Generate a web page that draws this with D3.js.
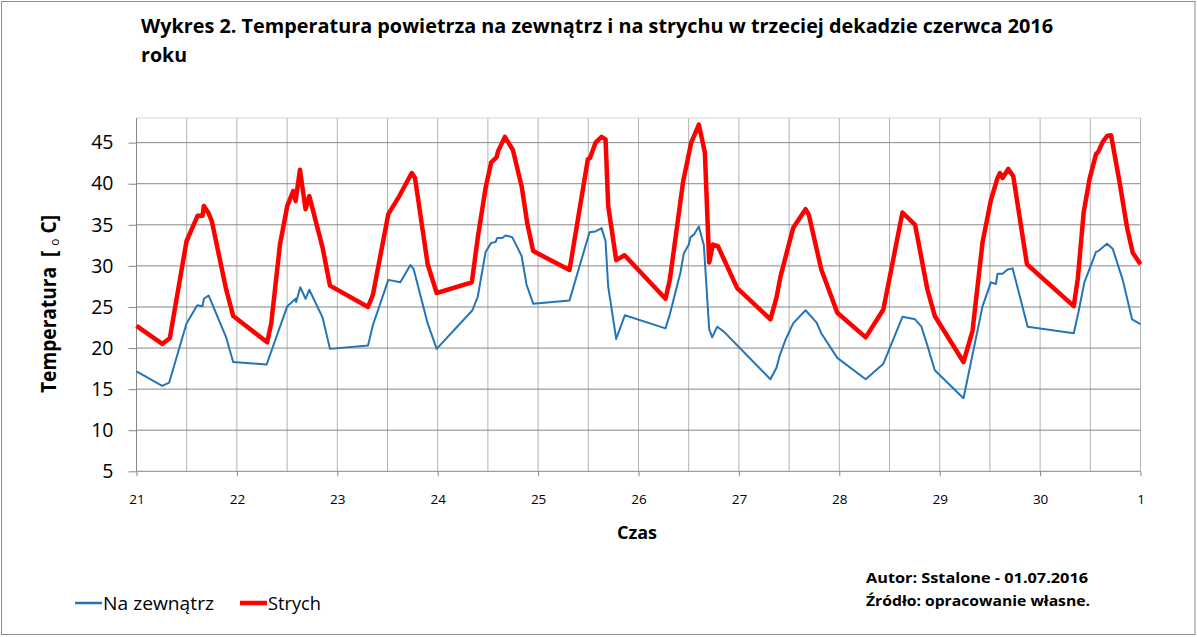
<!DOCTYPE html>
<html>
<head>
<meta charset="utf-8">
<script src="https://cdn.jsdelivr.net/npm/d3@7"></script>
<style>
  body { margin: 0; background: #fff; }
  svg { font-family: "Open Sans", "Noto Sans", sans-serif; }
</style>
</head>
<body>
<div id="chart-area"></div>
<script>
// czas w dniach czerwca (31 = 1 lipca, 00:00)
const outTime = [21.000, 21.256, 21.326, 21.498, 21.605, 21.658, 21.671, 21.718, 21.890, 21.963,
  22.296, 22.502, 22.585, 22.590, 22.631, 22.684, 22.721, 22.854, 22.927,
  23.306, 23.355, 23.508, 23.628, 23.728, 23.761, 23.900, 23.990,
  24.346, 24.400, 24.477, 24.533, 24.576, 24.593, 24.643, 24.676, 24.742, 24.836, 24.885, 24.951,
  25.313, 25.512, 25.572, 25.632, 25.672, 25.698, 25.778, 25.864,
  26.269, 26.312, 26.418, 26.451, 26.501, 26.518, 26.551, 26.601, 26.651, 26.704, 26.734, 26.784, 26.850,
  27.314, 27.374, 27.407, 27.464, 27.540, 27.664, 27.774, 27.820, 27.980,
  28.263, 28.439, 28.629, 28.755, 28.818, 28.878, 28.951,
  29.237, 29.427, 29.510, 29.560, 29.576, 29.626, 29.676, 29.726, 29.876,
  30.335, 30.381, 30.441, 30.557, 30.580, 30.667, 30.723, 30.823, 30.916, 31.000]
const outTemp = [17.15, 15.4, 15.8, 23.0, 25.2, 25.1, 26.0, 26.4, 21.4, 18.3,
  18.0, 25.1, 26.0, 25.6, 27.4, 26.0, 27.1, 23.7, 19.9,
  20.3, 22.8, 28.3, 28.0, 30.1, 29.6, 23.0, 19.9,
  24.6, 26.3, 31.7, 32.8, 32.9, 33.4, 33.4, 33.7, 33.5, 31.2, 27.7, 25.4,
  25.8, 34.1, 34.2, 34.6, 33.0, 27.5, 21.1, 24.0,
  22.4, 24.1, 29.2, 31.5, 32.6, 33.5, 33.8, 34.8, 32.5, 22.3, 21.3, 22.6, 22.0,
  16.2, 17.6, 19.1, 21.0, 23.0, 24.6, 23.1, 21.8, 18.8,
  16.2, 18.1, 23.8, 23.5, 22.6, 20.3, 17.3,
  13.9, 25.1, 28.0, 27.8, 29.05, 29.05, 29.55, 29.7, 22.6,
  21.8, 24.3, 28.0, 31.7, 31.8, 32.7, 32.1, 28.3, 23.5, 22.9]

const atticTime = [21.000, 21.256, 21.332, 21.498, 21.608, 21.658, 21.671, 21.718, 21.751, 21.890, 21.963,
  22.302, 22.342, 22.429, 22.502, 22.561, 22.585, 22.628, 22.684, 22.721, 22.854, 22.927,
  23.306, 23.355, 23.508, 23.618, 23.741, 23.774, 23.900, 23.990,
  24.340, 24.400, 24.477, 24.533, 24.586, 24.603, 24.669, 24.749, 24.836, 24.892, 24.951,
  25.313, 25.496, 25.516, 25.572, 25.632, 25.672, 25.698, 25.778, 25.861,
  26.269, 26.312, 26.445, 26.525, 26.601, 26.661, 26.704, 26.741, 26.791, 26.983,
  27.314, 27.374, 27.414, 27.540, 27.664, 27.697, 27.820, 27.980,
  28.263, 28.439, 28.629, 28.755, 28.878, 28.951,
  29.237, 29.327, 29.427, 29.510, 29.576, 29.600, 29.626, 29.683, 29.733, 29.869,
  30.335, 30.375, 30.434, 30.491, 30.557, 30.580, 30.624, 30.667, 30.707, 30.790, 30.867, 30.923, 31.000]
const atticTemp = [22.7, 20.5, 21.2, 33.0, 36.1, 36.1, 37.3, 36.4, 35.4, 27.3, 23.9,
  20.7, 23.0, 32.6, 37.3, 39.1, 37.9, 41.7, 36.9, 38.5, 32.2, 27.6,
  25.0, 26.5, 36.3, 38.5, 41.3, 40.7, 30.2, 26.7,
  28.0, 33.5, 39.5, 42.6, 43.2, 44.0, 45.7, 44.1, 39.7, 35.2, 31.8,
  29.5, 43.0, 43.1, 45.0, 45.7, 45.4, 37.3, 30.7, 31.3,
  26.0, 28.3, 40.3, 45.0, 47.2, 43.8, 30.4, 32.6, 32.4, 27.3,
  23.5, 26.1, 28.7, 34.6, 36.9, 36.2, 29.6, 24.3,
  21.3, 24.7, 36.5, 35.0, 27.1, 23.9,
  18.3, 22.1, 32.9, 38.0, 40.7, 41.3, 40.7, 41.8, 40.9, 30.2,
  25.1, 28.4, 36.5, 40.5, 43.6, 43.9, 45.1, 45.8, 45.9, 40.3, 34.6, 31.6, 30.2]

const dayTicks = [21, 22, 23, 24, 25, 26, 27, 28, 29, 30, 31]
const dayLabels = ["21", "22", "23", "24", "25", "26", "27", "28", "29", "30", "1"]
const tempTicks = [5, 10, 15, 20, 25, 30, 35, 40, 45]
const seriesNames = ["Na zewnątrz", "Strych"]

const W = 1197, H = 637
const plotLeft = 136.5, plotRight = 1140.5, plotTop = 118, plotBottom = 471.3

const svg = d3.select("#chart-area").append("svg")
    .attr("width", W)
    .attr("height", H)

svg.append("rect")
    .attr("x", 1.5).attr("y", 1.5)
    .attr("width", W - 3.5).attr("height", H - 4)
    .attr("fill", "#fff")
    .attr("stroke", "#8c8c8c")

const x = d3.scaleLinear().domain([21, 31]).range([plotLeft, plotRight])
const y = d3.scaleLinear().domain([5, 48]).range([plotBottom, plotTop])

// siatka pionowa co 12 godzin
const halfDays = d3.range(21.5, 31.01, 0.5)
svg.append("g").selectAll("line")
    .data(halfDays)
    .enter().append("line")
        .attr("x1", d => x(d)).attr("x2", d => x(d))
        .attr("y1", plotTop).attr("y2", plotBottom)
        .attr("stroke", "#b3b3b3")
        .attr("stroke-width", 1)

// ramka górna obszaru wykresu
svg.append("line")
    .attr("x1", plotLeft).attr("x2", plotRight)
    .attr("y1", plotTop).attr("y2", plotTop)
    .attr("stroke", "#d4d4d4")

// siatka pozioma
svg.append("g").selectAll("line")
    .data(tempTicks.slice(1))
    .enter().append("line")
        .attr("x1", plotLeft).attr("x2", plotRight)
        .attr("y1", d => y(d)).attr("y2", d => y(d))
        .attr("stroke", "#878787")
        .attr("stroke-width", 1)

// oś Y
const yAxis = svg.append("g")
    .attr("transform", "translate(" + plotLeft + ",0)")
    .call(d3.axisLeft(y).tickValues(tempTicks).tickSize(8).tickPadding(15))
yAxis.select(".domain").attr("stroke", "#878787").attr("d", "M0," + plotBottom + "V" + plotTop)
yAxis.selectAll(".tick line").attr("stroke", "#878787")
yAxis.selectAll("text")
    .attr("font-size", "19.5px")
    .attr("font-family", "Open Sans, sans-serif")
    .attr("fill", "#000")

// oś X
const xAxis = svg.append("g")
    .attr("transform", "translate(0," + plotBottom + ")")
    .call(d3.axisBottom(x).tickValues(dayTicks)
        .tickFormat((d, i) => dayLabels[i])
        .tickSize(5).tickPadding(18))
xAxis.select(".domain").attr("stroke", "#878787").attr("d", "M" + plotLeft + ",0H" + plotRight)
xAxis.selectAll(".tick line").attr("stroke", "#878787")
xAxis.selectAll("text")
    .attr("font-size", "13.5px")
    .attr("font-family", "Open Sans, sans-serif")
    .attr("fill", "#000")

// linie serii
const line = d3.line()
    .x(d => x(d[0]))
    .y(d => y(d[1]))

svg.append("path")
    .datum(outTime.map((t, i) => [t, outTemp[i]]))
    .attr("fill", "none")
    .attr("stroke", "#2474b8")
    .attr("stroke-width", 2)
    .attr("stroke-linejoin", "round")
    .attr("d", line)

svg.append("path")
    .datum(atticTime.map((t, i) => [t, atticTemp[i]]))
    .attr("fill", "none")
    .attr("stroke", "#ff0000")
    .attr("stroke-width", 4.5)
    .attr("stroke-linejoin", "round")
    .attr("d", line)

// tytuł
svg.append("text")
    .attr("x", 141).attr("y", 33)
    .attr("font-size", "19px").attr("font-weight", "bold")
    .attr("textLength", 912).attr("lengthAdjust", "spacingAndGlyphs")
    .text("Wykres 2. Temperatura powietrza na zewnątrz i na strychu w trzeciej dekadzie czerwca 2016")
svg.append("text")
    .attr("x", 141).attr("y", 62)
    .attr("font-size", "19px").attr("font-weight", "bold")
    .attr("textLength", 46).attr("lengthAdjust", "spacingAndGlyphs")
    .text("roku")

// tytuły osi
const yTitle = svg.append("text")
    .attr("transform", "translate(56,393) rotate(-90)")
    .attr("font-size", "21px").attr("font-weight", "bold")
    .style("white-space", "pre")
    .attr("textLength", 178).attr("lengthAdjust", "spacingAndGlyphs")
yTitle.append("tspan").text("Temperatura  [ ")
yTitle.append("tspan").attr("font-size", "13px").attr("font-weight", "normal").attr("dy", 3).text("o")
yTitle.append("tspan").attr("dy", -3).text(" C]")

svg.append("text")
    .attr("x", 637).attr("y", 539)
    .attr("text-anchor", "middle")
    .attr("font-size", "18px").attr("font-weight", "bold")
    .text("Czas")

// legenda
const legendColors = ["#2474b8", "#ff0000"]
const legendWidths = [2.5, 4.5]
const legendX = [75, 240]
const legendTextLen = [111, 53]
const legend = svg.append("g").selectAll("g")
    .data(seriesNames)
    .enter().append("g")
        .attr("transform", (d, i) => "translate(" + legendX[i] + ",603)")
legend.append("line")
    .attr("x1", 0).attr("x2", 27)
    .attr("stroke", (d, i) => legendColors[i])
    .attr("stroke-width", (d, i) => legendWidths[i])
legend.append("text")
    .attr("x", 28).attr("y", 6.5)
    .attr("font-size", "18px")
    .attr("textLength", (d, i) => legendTextLen[i]).attr("lengthAdjust", "spacingAndGlyphs")
    .text(d => d)

// autor i źródło
svg.append("text")
    .attr("x", 866).attr("y", 583)
    .attr("font-size", "15px").attr("font-weight", "bold")
    .attr("textLength", 222).attr("lengthAdjust", "spacingAndGlyphs")
    .text("Autor: Sstalone - 01.07.2016")
svg.append("text")
    .attr("x", 866).attr("y", 606)
    .attr("font-size", "15px").attr("font-weight", "bold")
    .attr("textLength", 224).attr("lengthAdjust", "spacingAndGlyphs")
    .text("Źródło: opracowanie własne.")
</script>
</body>
</html>
